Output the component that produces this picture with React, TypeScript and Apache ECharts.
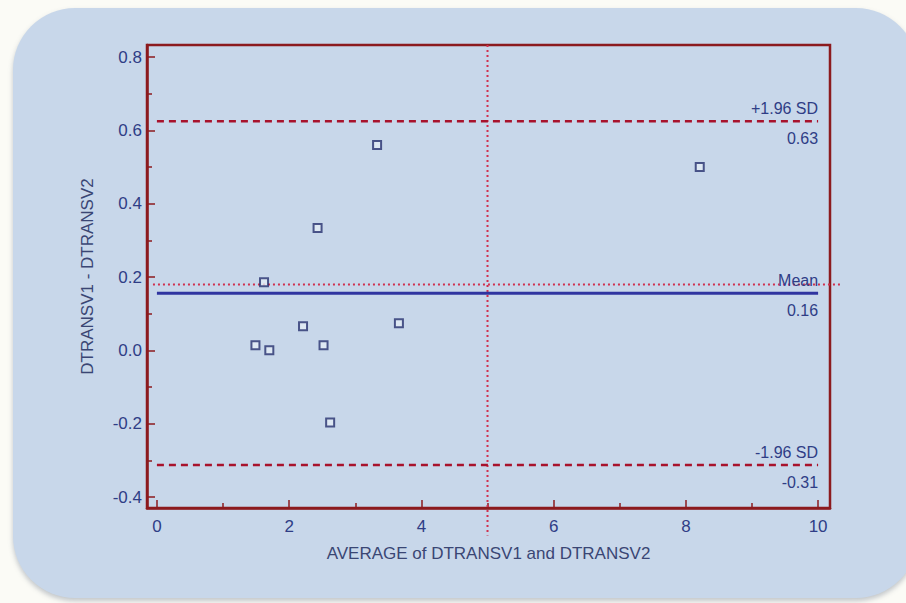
import React, { useEffect, useRef } from "react";
import * as echarts from "echarts";

const xValues = [3.33, 2.43, 1.62, 2.21, 3.66, 1.49, 1.7, 2.52, 2.62, 8.21];
const yValues = [0.56, 0.334, 0.186, 0.066, 0.074, 0.014, 0.0, 0.014, -0.197, 0.5];

const limitValues = [0.625, 0.156, -0.313];
const limitNames = ["+1.96 SD", "Mean", "-1.96 SD"];
const limitLabels = ["0.63", "0.16", "-0.31"];
const limitKinds = ["dashed", "solid", "dashed"];

const xTicks = [0, 2, 4, 6, 8, 10];
const xMinorTicks = [1, 3, 5, 7, 9];
const yTicks = [-0.4, -0.2, 0, 0.2, 0.4, 0.6, 0.8];
const yMinorTicks = [-0.3, -0.1, 0.1, 0.3, 0.5, 0.7];

// crosshair cursor lines: [x1, y1, x2, y2]
const crossLines = [
  [5, 0.833, 5, -0.505],
  [-0.06, 0.18, 10.35, 0.18],
];

const FRAME = "#8c1a1e";
const TEXT = "#2f3d86";
const NAME = "#3a4674";
const FONT = "'Liberation Sans', Arial, sans-serif";

export default function App() {
  const ref = useRef<HTMLDivElement>(null);
  useEffect(() => {
    if (!ref.current) return;
    const chart = echarts.init(ref.current, null, { renderer: "svg" });
    const option: any = {
      animation: false,
      backgroundColor: "transparent",
      grid: {
        left: 147,
        right: 76,
        top: 45,
        bottom: 95,
        show: true,
        borderColor: FRAME,
        borderWidth: 2.5,
        backgroundColor: "transparent",
      },
      xAxis: [
        {
          type: "value",
          min: -0.15,
          max: 10.18,
          position: "bottom",
          offset: 0,
          name: "AVERAGE of DTRANSV1 and DTRANSV2",
          nameLocation: "middle",
          nameGap: 37,
          nameTextStyle: { color: NAME, fontSize: 17, fontFamily: FONT, verticalAlign: "top" },
          axisLine: { show: true, onZero: false, lineStyle: { color: FRAME, width: 2.5 } },
          axisTick: {
            show: true,
            inside: true,
            length: 8,
            customValues: xTicks,
            lineStyle: { color: FRAME, width: 1.5 },
          },
          axisLabel: {
            show: true,
            customValues: xTicks,
            margin: 10,
            color: TEXT,
            fontSize: 17,
            fontFamily: FONT,
            formatter: (v: number) => String(v),
          },
          splitLine: { show: false },
        },
        {
          type: "value",
          min: -0.15,
          max: 10.18,
          position: "bottom",
          offset: 0,
          axisLine: { show: false, onZero: false },
          axisTick: {
            show: true,
            inside: true,
            length: 5,
            customValues: xMinorTicks,
            lineStyle: { color: FRAME, width: 1.5 },
          },
          axisLabel: { show: false },
          splitLine: { show: false },
        },
      ],
      yAxis: [
        {
          type: "value",
          min: -0.43,
          max: 0.833,
          position: "left",
          offset: 0,
          name: "DTRANSV1 - DTRANSV2",
          nameLocation: "middle",
          nameGap: 51,
          nameRotate: 90,
          nameTextStyle: { color: NAME, fontSize: 17, fontFamily: FONT },
          axisLine: { show: true, onZero: false, lineStyle: { color: FRAME, width: 2.5 } },
          axisTick: {
            show: true,
            inside: true,
            length: 8,
            customValues: yTicks,
            lineStyle: { color: FRAME, width: 1.5 },
          },
          axisLabel: {
            show: true,
            customValues: yTicks,
            margin: 5,
            color: TEXT,
            fontSize: 17,
            fontFamily: FONT,
            formatter: (v: number) => (Math.abs(v) < 1e-9 ? "0.0" : v.toFixed(1)),
          },
          splitLine: { show: false },
        },
        {
          type: "value",
          min: -0.43,
          max: 0.833,
          position: "left",
          offset: 0,
          axisLine: { show: false, onZero: false },
          axisTick: {
            show: true,
            inside: true,
            length: 5,
            customValues: yMinorTicks,
            lineStyle: { color: FRAME, width: 1.5 },
          },
          axisLabel: { show: false },
          splitLine: { show: false },
        },
      ],
      series: [
        {
          type: "custom",
          xAxisIndex: 0,
          yAxisIndex: 0,
          clip: false,
          z: 3,
          data: crossLines,
          renderItem: (params: any, api: any) => {
            const p0 = api.coord([api.value(0), api.value(1)]);
            const p1 = api.coord([api.value(2), api.value(3)]);
            return {
              type: "line",
              shape: { x1: p0[0], y1: p0[1], x2: p1[0], y2: p1[1] },
              style: { stroke: "#d0304e", lineWidth: 2, lineDash: [2, 3] },
            };
          },
        },
        {
          type: "custom",
          xAxisIndex: 0,
          yAxisIndex: 0,
          clip: false,
          z: 4,
          data: limitValues.map((v, i) => [v, i]),
          renderItem: (params: any, api: any) => {
            const i = params.dataIndex;
            const y = api.value(0);
            const p0 = api.coord([0, y]);
            const p1 = api.coord([10, y]);
            const dashed = limitKinds[i] === "dashed";
            return {
              type: "group",
              children: [
                {
                  type: "line",
                  shape: { x1: p0[0], y1: p0[1], x2: p1[0], y2: p1[1] },
                  style: dashed
                    ? { stroke: "#a8122c", lineWidth: 2.5, lineDash: [7, 5] }
                    : { stroke: "#2f34a0", lineWidth: 3 },
                },
                {
                  type: "text",
                  x: p1[0],
                  y: p1[1] - 5,
                  style: {
                    text: limitNames[i],
                    fill: TEXT,
                    font: `16px ${FONT}`,
                    align: "right",
                    verticalAlign: "bottom",
                  },
                },
                {
                  type: "text",
                  x: p1[0],
                  y: p1[1] + 9,
                  style: {
                    text: limitLabels[i],
                    fill: TEXT,
                    font: `16px ${FONT}`,
                    align: "right",
                    verticalAlign: "top",
                  },
                },
              ],
            };
          },
        },
        {
          type: "scatter",
          xAxisIndex: 0,
          yAxisIndex: 0,
          z: 5,
          symbol: "rect",
          symbolSize: 8,
          itemStyle: { color: "#e4ecf5", borderColor: "#26306e", borderWidth: 2 },
          data: xValues.map((x, i) => [x, yValues[i]]),
        },
      ],
    };
    chart.setOption(option);
    return () => chart.dispose();
  }, []);

  return (
    <div
      style={{
        position: "absolute",
        left: 0,
        top: 0,
        width: 906,
        height: 603,
        background: "#fbfbf6",
        overflow: "hidden",
      }}
    >
      <div
        style={{
          position: "absolute",
          left: 13,
          top: 8,
          width: 905,
          height: 590,
          borderRadius: 62,
          background: "#c8d7ea",
          boxShadow: "0 3px 5px rgba(90,100,120,0.35)",
        }}
      />
      <div ref={ref} style={{ position: "absolute", left: 0, top: 0, width: 906, height: 603 }} />
    </div>
  );
}
